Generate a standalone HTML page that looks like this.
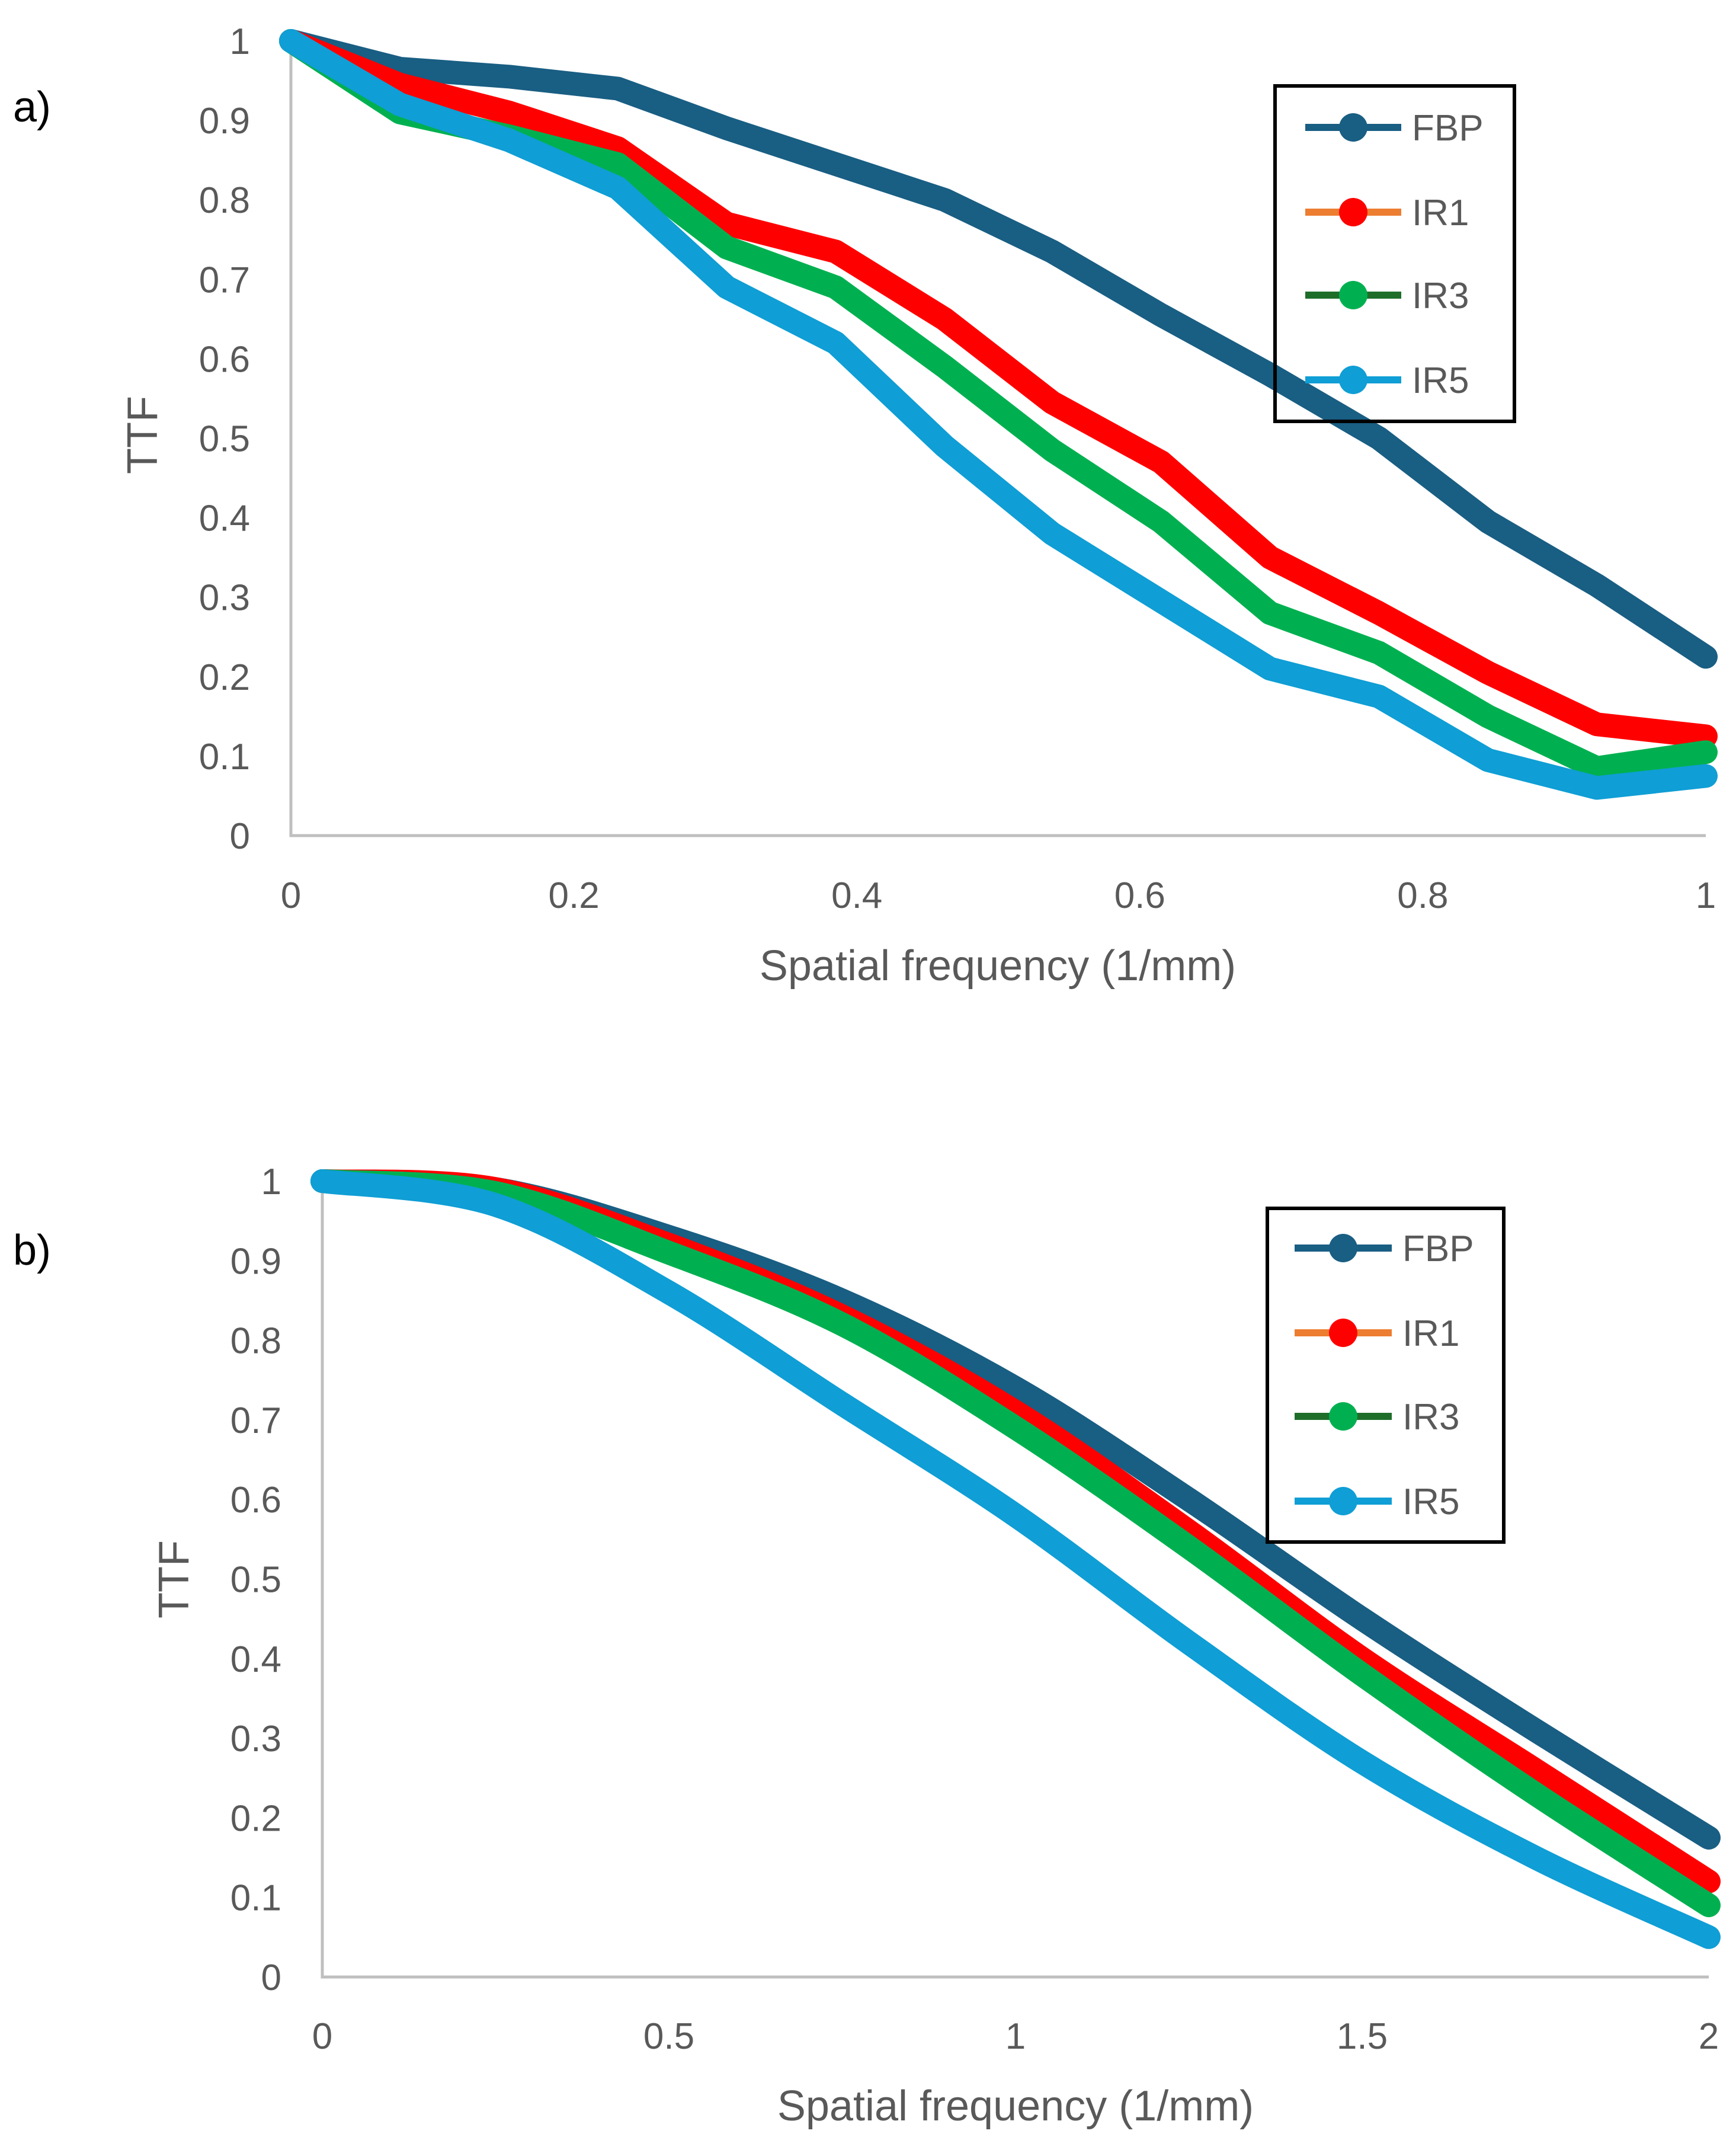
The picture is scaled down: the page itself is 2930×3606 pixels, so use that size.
<!DOCTYPE html>
<html><head><meta charset="utf-8"><style>
html,body{margin:0;padding:0;background:#fff}
svg{display:block}
text{font-family:"Liberation Sans",sans-serif}
</style></head><body>
<svg id="chart" width="2930" height="3606" viewBox="0 0 2930 3606" xmlns="http://www.w3.org/2000/svg"></svg>
<script>
const seriesNames = ["FBP","IR1","IR3","IR5"];
const seriesColors = ["#195e83","#ff0000","#00b050","#0f9ed5"];
const legendLineColors = ["#195e83","#ed7d31","#1e6e2a","#0f9ed5"];
const xA = [0,0.077,0.154,0.231,0.308,0.385,0.462,0.538,0.615,0.692,0.769,0.846,0.923,1];
const fbpA = [1,0.965,0.955,0.94,0.89,0.845,0.8,0.735,0.655,0.58,0.5,0.395,0.315,0.225];
const ir1A = [1,0.945,0.91,0.865,0.77,0.735,0.65,0.545,0.47,0.35,0.28,0.205,0.14,0.125];
const ir3A = [1,0.91,0.88,0.845,0.74,0.69,0.59,0.485,0.395,0.28,0.23,0.15,0.085,0.105];
const ir5A = [1,0.92,0.875,0.815,0.69,0.62,0.49,0.38,0.295,0.21,0.175,0.095,0.06,0.075];
const xB = [0,0.25,0.5,0.75,1,1.25,1.5,1.75,2];
const fbpB = [1,0.99,0.93,0.85,0.74,0.6,0.45,0.31,0.175];
const ir1B = [1,0.99,0.92,0.83,0.71,0.56,0.4,0.26,0.12];
const ir3B = [1,0.985,0.91,0.82,0.69,0.54,0.38,0.23,0.09];
const ir5B = [1,0.97,0.86,0.72,0.58,0.42,0.27,0.15,0.05];
const yTicks = [0,0.1,0.2,0.3,0.4,0.5,0.6,0.7,0.8,0.9,1];
const yTickLabels = ["0","0.1","0.2","0.3","0.4","0.5","0.6","0.7","0.8","0.9","1"];
const xTicksA = [0,0.2,0.4,0.6,0.8,1];
const xTickLabelsA = ["0","0.2","0.4","0.6","0.8","1"];
const xTicksB = [0,0.5,1,1.5,2];
const xTickLabelsB = ["0","0.5","1","1.5","2"];

const svg = document.getElementById('chart');
const NS = "http://www.w3.org/2000/svg";
function el(tag, attrs, parent){const e=document.createElementNS(NS,tag);for(const k in attrs)e.setAttribute(k,attrs[k]);(parent||svg).appendChild(e);return e;}
function txt(s, attrs, parent){const e=el('text',attrs,parent);e.textContent=s;return e;}

function catmull(pts, smooth){
  if(!smooth){return "M"+pts.map(p=>p[0].toFixed(1)+","+p[1].toFixed(1)).join(" L");}
  let d="M"+pts[0][0]+","+pts[0][1];
  for(let i=0;i<pts.length-1;i++){
    const p0=pts[i-1]||pts[i],p1=pts[i],p2=pts[i+1],p3=pts[i+2]||p2;
    const c1=[p1[0]+(p2[0]-p0[0])/6,p1[1]+(p2[1]-p0[1])/6];
    const c2=[p2[0]-(p3[0]-p1[0])/6,p2[1]-(p3[1]-p1[1])/6];
    d+=` C${c1[0].toFixed(1)},${c1[1].toFixed(1)} ${c2[0].toFixed(1)},${c2[1].toFixed(1)} ${p2[0].toFixed(1)},${p2[1].toFixed(1)}`;
  }
  return d;
}

function drawChart(cfg){
  const g = el('g',{});
  
  
  const sx = v => cfg.x0 + (v - cfg.xmin)/(cfg.xmax-cfg.xmin)*(cfg.x1-cfg.x0);
  const sy = v => cfg.y0 - v*(cfg.y0-cfg.y1);
  const ax = el('path',{d:`M${cfg.x0},${cfg.y1-10} L${cfg.x0},${cfg.y0} L${cfg.x1},${cfg.y0}`,fill:'none',stroke:'#bfbfbf','stroke-width':5},g);
  
  
  yTicks.forEach((v,i)=>{
    const t=txt(yTickLabels[i],{x:cfg.yLabX,y:sy(v)+22,'text-anchor':'end','font-size':62,fill:'#595959'},g);
    
    
  });
  cfg.xTicks.forEach((v,i)=>{
    const t=txt(cfg.xTickLabels[i],{x:sx(v),y:cfg.xLabY,'text-anchor':'middle','font-size':62,fill:'#595959'},g);
    
    
  });
  const xt=txt("Spatial frequency (1/mm)",{x:cfg.xTitle[0],y:cfg.xTitle[1],'text-anchor':'middle','font-size':72,fill:'#595959'},g);
  
  
  const yt=txt("TTF",{x:0,y:0,'text-anchor':'middle','font-size':72,fill:'#595959',transform:`translate(${cfg.yTitle[0]},${cfg.yTitle[1]}) rotate(-90)`},g);
  
  
  const pl=txt(cfg.panel,{x:22,y:cfg.panelY,'font-size':72,fill:'#000'},g);
  
  
  cfg.series.forEach((vals,si)=>{
    const pts = cfg.xs.map((x,i)=>[sx(x),sy(vals[i])]);
    const p=el('path',{d:catmull(pts,cfg.smooth),fill:'none',stroke:seriesColors[si],'stroke-width':cfg.lw,'stroke-linecap':'round','stroke-linejoin':'round'},g);
    
    
  });
  const L=cfg.legend;
  const lb=el('rect',{x:L.x,y:L.y,width:L.w,height:L.h,fill:'none',stroke:'#000','stroke-width':6},g);
  
  
  seriesNames.forEach((n,i)=>{
    const lg=el('g',{},g);
    
    
    const y=L.rows[i];
    el('line',{x1:L.lx0,x2:L.lx1,y1:y,y2:y,stroke:legendLineColors[i],'stroke-width':12},lg);
    el('circle',{cx:(L.lx0+L.lx1)/2,cy:y,r:24,fill:seriesColors[i]},lg);
    txt(n,{x:L.tx,y:y+22,'font-size':62,fill:'#595959'},lg);
  });
}

drawChart({name:'chart-a',panel:'a)',panelY:205,x0:491,x1:2879,y0:1410,y1:69,xmin:0,xmax:1,lw:40,
  yLabX:422,xLabY:1532,xTicks:xTicksA,xTickLabels:xTickLabelsA,xTitle:[1684,1654],yTitle:[265,734],
  xs:xA,series:[fbpA,ir1A,ir3A,ir5A],smooth:false,
  legend:{x:2152,y:145,w:404,h:566,rows:[215,358,498,641],lx0:2203,lx1:2365,tx:2383}});
drawChart({name:'chart-b',panel:'b)',panelY:2134,x0:544,x1:2884,y0:3336,y1:1993,xmin:0,xmax:2,lw:40,
  yLabX:475,xLabY:3457,xTicks:xTicksB,xTickLabels:xTickLabelsB,xTitle:[1714,3578],yTitle:[318,2665],
  xs:xB,series:[fbpB,ir1B,ir3B,ir5B],smooth:true,
  legend:{x:2139,y:2039,w:399,h:563,rows:[2106,2249,2390,2533],lx0:2185,lx1:2349,tx:2367}});
</script>
</body></html>
